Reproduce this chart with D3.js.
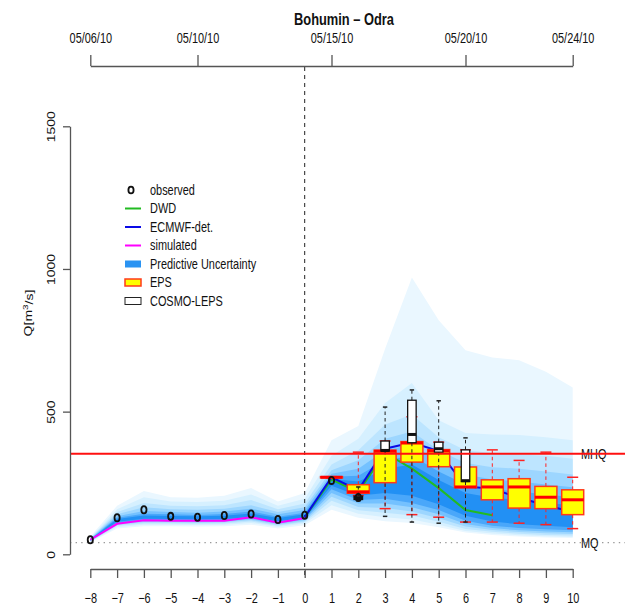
<!DOCTYPE html>
<html>
<head>
<meta charset="utf-8">
<script src="https://cdn.jsdelivr.net/npm/d3@7"></script>
<style>
  html, body { margin: 0; padding: 0; background: #fff; }
  svg { display: block; }
  text { font-family: "Liberation Sans", Arial, Helvetica, sans-serif; fill: #111; }
</style>
</head>
<body>
<svg id="chart" width="625" height="606"></svg>
<script>
// Lead times in days relative to the forecast start (05/14/10)
const leadTimes = [-8, -7, -6, -5, -4, -3, -2, -1, 0, 1, 2, 3, 4, 5, 6, 7, 8, 9, 10];

// Observed discharge, lead -8 .. 2
const observedLeads = [-8, -7, -6, -5, -4, -3, -2, -1, 0, 1, 2];
const observed = [51, 128, 156, 133, 130, 136, 141, 122, 137, 259, 199];

// Simulated discharge, lead -8 .. 0
const simulatedLeads = [-8, -7, -6, -5, -4, -3, -2, -1, 0];
const simulated = [51, 107, 119, 118, 118, 118, 130, 111, 127];

// DWD deterministic forecast, lead 0 .. 7
const dwdLeads = [0, 1, 2, 3, 4, 5, 6, 7];
const dwd = [130, 262, 218, 355, 300, 232, 155, 137];

// ECMWF deterministic forecast, lead 0 .. 10
const ecmwfLeads = [0, 1, 2, 3, 4, 5, 6, 7, 8, 9, 10];
const ecmwf = [130, 270, 225, 370, 392, 362, 238, 230, 198, 172, 148];

// Predictive uncertainty: band edges per lead time, outermost band first
const puUpper = [
  [62, 170, 222, 200, 198, 205, 232, 185, 215, 400, 450, 720, 970, 820, 715, 690, 680, 640, 585],
  [58, 158, 200, 185, 183, 188, 210, 170, 195, 345, 405, 530, 600, 470, 425, 420, 418, 410, 400],
  [56, 148, 180, 170, 168, 172, 190, 158, 178, 315, 365, 455, 490, 410, 365, 355, 350, 345, 335],
  [55, 140, 165, 158, 156, 160, 172, 148, 165, 295, 330, 405, 430, 365, 320, 305, 300, 290, 280],
  [54, 133, 152, 148, 146, 150, 160, 140, 155, 282, 300, 365, 385, 325, 280, 262, 255, 245, 235],
  [53, 128, 142, 140, 138, 141, 150, 132, 146, 272, 275, 330, 345, 290, 245, 228, 220, 210, 200],
  [52, 124, 136, 134, 133, 135, 143, 127, 140, 264, 255, 300, 315, 260, 215, 198, 190, 180, 172]
];
const puLower = [
  [42, 90, 98, 98, 97, 98, 104, 90, 102, 156, 128, 116, 110, 95, 76, 68, 62, 59, 57],
  [44, 96, 104, 104, 103, 104, 110, 96, 108, 172, 142, 130, 122, 104, 82, 73, 67, 63, 61],
  [45, 100, 108, 108, 107, 108, 115, 100, 112, 188, 154, 146, 136, 114, 89, 79, 72, 68, 66],
  [46, 104, 112, 112, 111, 112, 119, 104, 116, 202, 166, 162, 150, 126, 97, 85, 78, 74, 71],
  [47, 107, 116, 116, 115, 116, 123, 108, 120, 215, 178, 178, 165, 140, 106, 92, 84, 80, 77],
  [48, 110, 120, 120, 119, 120, 127, 112, 124, 228, 190, 195, 180, 155, 118, 100, 92, 88, 84],
  [49, 114, 125, 124, 123, 124, 131, 116, 128, 240, 205, 215, 205, 175, 135, 115, 105, 100, 95]
];
const puColors = ["#EAF7FF", "#D6F0FF", "#BDE5FF", "#9DD6FF", "#74C1FF", "#4AA7FA", "#2290F4"];

// EPS ensemble: [min, q1, median, q3, max] per lead
const epsLeads = [1, 2, 3, 4, 5, 6, 7, 8, 9, 10];
const epsStats = [
  [268, 268, 270, 272, 272],
  [206, 214, 219, 244, 358],
  [160, 251, 361, 365, 397],
  [139, 323, 390, 395, 482],
  [130, 307, 362, 367, 393],
  [113, 234, 236, 306, 366],
  [113, 191, 236, 261, 366],
  [109, 162, 236, 265, 329],
  [104, 160, 200, 238, 358],
  [90, 139, 191, 226, 270]
];

// COSMO-LEPS ensemble: [min, q1, median, q3, max] per lead
const cosmoLeads = [2, 3, 4, 5, 6];
const cosmoStats = [
  [188, 192, 198, 204, 236],
  [133, 362, 364, 397, 516],
  [113, 391, 420, 540, 576],
  [109, 358, 370, 393, 538],
  [113, 255, 258, 366, 408]
];

// Reference discharges
const MQ = 41;
const MHQ = 352;

// Axis ticks
const bottomTicks = [-8, -7, -6, -5, -4, -3, -2, -1, 0, 1, 2, 3, 4, 5, 6, 7, 8, 9, 10];
const yTicks = [0, 500, 1000, 1500];
const dateTicks = ["2010-05-06", "2010-05-10", "2010-05-15", "2010-05-20", "2010-05-24"];
const dateDomain = ["2010-05-06", "2010-05-24"];

const legendItems = ["observed", "DWD", "ECMWF-det.", "simulated", "Predictive Uncertainty", "EPS", "COSMO-LEPS"];

// ---------------------------------------------------------------
(function draw() {
const svg = d3.select("#chart");
const SX = 0.78; // narrow lettering

const x = d3.scaleLinear().domain([-8, 10]).range([90.3, 572.7]);
const y = d3.scaleLinear().domain([0, 1500]).range([554.3, 126.3]);
const parse = d3.utcParse("%Y-%m-%d");
const xt = d3.scaleUtc().domain(dateDomain.map(parse)).range(x.range());

function label(g, px, py, str, opts = {}) {
  return g.append("text")
    .attr("transform", `translate(${px},${py}) scale(${SX},1)` + (opts.rotate ? ` rotate(${opts.rotate})` : ""))
    .attr("text-anchor", opts.anchor || "start")
    .attr("dy", "0.35em")
    .style("font-size", (opts.size || 14) + "px")
    .style("font-weight", opts.weight || "normal")
    .text(str);
}

// Predictive uncertainty bands
const bands = svg.append("g");
puUpper.forEach((up, k) => {
  const lo = puLower[k];
  const area = d3.area()
    .x((d, i) => x(leadTimes[i]))
    .y0((d, i) => y(lo[i]))
    .y1((d, i) => y(up[i]));
  bands.append("path").datum(up).attr("d", area).attr("fill", puColors[k]);
});

// MQ dotted reference line
svg.append("line")
  .attr("x1", 70).attr("x2", 625).attr("y1", y(MQ)).attr("y2", y(MQ))
  .attr("stroke", "#9a9a9a").attr("stroke-width", 1.4).attr("stroke-dasharray", "1.4,4.2");
label(svg, 581, y(MQ), "MQ");

// Forecast start marker
svg.append("line")
  .attr("x1", x(0)).attr("x2", x(0)).attr("y1", 67).attr("y2", 578)
  .attr("stroke", "#222").attr("stroke-width", 1).attr("stroke-dasharray", "4,4");

// Lines
const line = (xs) => d3.line().x((d, i) => x(xs[i])).y(d => y(d));
svg.append("path").datum(simulated).attr("d", line(simulatedLeads))
  .attr("fill", "none").attr("stroke", "#FF00FF").attr("stroke-width", 2);
svg.append("path").datum(dwd).attr("d", line(dwdLeads))
  .attr("fill", "none").attr("stroke", "#22BB22").attr("stroke-width", 2);
svg.append("path").datum(ecmwf).attr("d", line(ecmwfLeads))
  .attr("fill", "none").attr("stroke", "#0A0AE6").attr("stroke-width", 2);

// Box plots
function boxes(leads, stats, o) {
  const g = svg.append("g");
  const dx = o.width / 2;
  leads.forEach((ld, i) => {
    const [mn, q1, md, q3, mx] = stats[i];
    const cx = x(ld);
    g.append("line").attr("x1", cx).attr("x2", cx).attr("y1", y(q3)).attr("y2", y(mx))
      .attr("stroke", o.whisker).attr("stroke-width", 1).attr("stroke-dasharray", "3.5,3");
    g.append("line").attr("x1", cx).attr("x2", cx).attr("y1", y(q1)).attr("y2", y(mn))
      .attr("stroke", o.whisker).attr("stroke-width", 1).attr("stroke-dasharray", "3.5,3");
    [mn, mx].forEach(v => {
      g.append("line").attr("x1", cx - o.cap).attr("x2", cx + o.cap).attr("y1", y(v)).attr("y2", y(v))
        .attr("stroke", o.capColor).attr("stroke-width", 1.5);
    });
    g.append("rect").attr("x", cx - dx).attr("width", o.width)
      .attr("y", y(q3)).attr("height", Math.max(0.5, y(q1) - y(q3)))
      .attr("fill", o.fill).attr("stroke", o.stroke).attr("stroke-width", o.strokeWidth);
    g.append("line").attr("x1", cx - dx).attr("x2", cx + dx).attr("y1", y(md)).attr("y2", y(md))
      .attr("stroke", o.median).attr("stroke-width", 3);
  });
}
boxes(epsLeads, epsStats, {
  width: 22, cap: 5.5, fill: "#FFFF00", stroke: "#FF3A1A", strokeWidth: 1.5,
  median: "#FF0000", whisker: "#FF2222", capColor: "#FF2222"
});
boxes(cosmoLeads, cosmoStats, {
  width: 8.5, cap: 2.2, fill: "#FFFFFF", stroke: "#111", strokeWidth: 1.3,
  median: "#111", whisker: "#222", capColor: "#222"
});

// Observed values
svg.append("g").selectAll("ellipse").data(observed).join("ellipse")
  .attr("cx", (d, i) => x(observedLeads[i])).attr("cy", d => y(d))
  .attr("rx", 2.6).attr("ry", 3.6)
  .attr("fill", "none").attr("stroke", "#111").attr("stroke-width", 1.8);

// MHQ reference line
label(svg, 581, y(MHQ), "MHQ");
svg.append("line")
  .attr("x1", 70).attr("x2", 625).attr("y1", y(MHQ)).attr("y2", y(MHQ))
  .attr("stroke", "#FF1010").attr("stroke-width", 2);

// Axes
function styleAxis(g) {
  g.selectAll("path, line").attr("stroke", "#555").attr("stroke-width", 1.3);
  g.selectAll("text").style("font-size", "14px").attr("fill", "#111");
}

const axisB = svg.append("g").attr("transform", "translate(0,569)")
  .call(d3.axisBottom(x).tickValues(bottomTicks).tickSize(9).tickSizeOuter(0).tickFormat(d3.format("d")));
styleAxis(axisB);
axisB.selectAll(".tick text").attr("y", 29).attr("dy", "0.35em")
  .attr("transform", `scale(${SX},1)`)
  .text(d => d < 0 ? "\u2212" + Math.abs(d) : d);

const axisT = svg.append("g").attr("transform", "translate(0,66)")
  .call(d3.axisTop(xt).tickValues(dateTicks.map(parse)).tickSize(11).tickSizeOuter(0)
    .tickFormat(d3.utcFormat("%m/%d/%y")));
styleAxis(axisT);
axisT.selectAll(".tick text").attr("y", -28).attr("dy", "0.35em")
  .attr("transform", `scale(${SX},1)`);

const axisL = svg.append("g").attr("transform", "translate(70,0)")
  .call(d3.axisLeft(y).tickValues(yTicks).tickSize(7).tickSizeOuter(0).tickFormat(d3.format("d")));
styleAxis(axisL);
axisL.selectAll(".tick text").attr("x", 0).attr("y", 0).attr("dy", "0.35em")
  .attr("text-anchor", "middle")
  .attr("transform", `translate(-19,0) scale(${SX},1) rotate(-90)`);

// Titles
label(svg, 344, 19.5, "Bohumin \u2013 Odra", { anchor: "middle", size: 16.5, weight: "bold" });
const yl = label(svg, 28, 313, "", { anchor: "middle", rotate: -90 });
yl.append("tspan").text("Q[m");
yl.append("tspan").text("3").attr("dy", "-0.45em").style("font-size", "10px");
yl.append("tspan").text("/s]").attr("dy", "0.45em");

// Legend
const lg = svg.append("g");
const ly = i => 190 + i * 18.5;
legendItems.forEach((name, i) => label(lg, 150, ly(i), name));
lg.append("ellipse").attr("cx", 131).attr("cy", ly(0)).attr("rx", 2.6).attr("ry", 3.4)
  .attr("fill", "none").attr("stroke", "#111").attr("stroke-width", 1.8);
[["#22BB22", 1], ["#0A0AE6", 2], ["#FF00FF", 3]].forEach(([c, i]) => {
  lg.append("line").attr("x1", 125).attr("x2", 141).attr("y1", ly(i)).attr("y2", ly(i))
    .attr("stroke", c).attr("stroke-width", 2);
});
lg.append("rect").attr("x", 125).attr("y", ly(4) - 3.5).attr("width", 16).attr("height", 7)
  .attr("fill", "#2A93F2");
lg.append("rect").attr("x", 125).attr("y", ly(5) - 3.5).attr("width", 16).attr("height", 7)
  .attr("fill", "#FFFF00").attr("stroke", "#FF3A1A").attr("stroke-width", 1.5);
lg.append("rect").attr("x", 125).attr("y", ly(6) - 3.5).attr("width", 16).attr("height", 7)
  .attr("fill", "#fff").attr("stroke", "#222").attr("stroke-width", 1);
})();
</script>
</body>
</html>
